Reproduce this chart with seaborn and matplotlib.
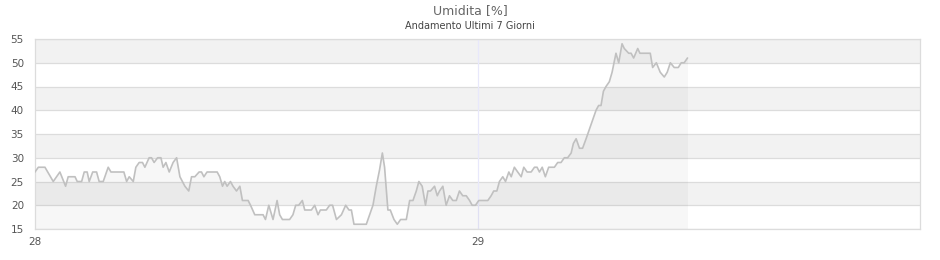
import matplotlib
matplotlib.use("Agg")
import matplotlib.pyplot as plt
import seaborn as sns
import pandas as pd

# hours since day 28 00:00
hours = [0.0, 0.18, 0.45, 0.54, 0.99, 1.35, 1.66, 1.80, 2.17, 2.29, 2.53, 2.67, 2.83, 2.94,
         3.13, 3.34, 3.48, 3.70, 3.97, 4.12, 4.82, 4.97, 5.11, 5.33, 5.47, 5.65, 5.83, 5.96,
         6.19, 6.32, 6.46, 6.65, 6.83, 6.95, 7.10, 7.28, 7.49, 7.68, 7.86, 8.13, 8.34, 8.49,
         8.67, 8.90, 9.03, 9.16, 9.33, 9.88, 10.02, 10.17, 10.29, 10.42, 10.60, 10.74, 10.93,
         11.11, 11.25, 11.56, 11.69, 11.92, 12.37, 12.50, 12.68, 12.91, 13.13, 13.27, 13.42,
         13.81, 13.99, 14.14, 14.30, 14.50, 14.63, 14.99, 15.17, 15.35, 15.48, 15.80, 15.98,
         16.14, 16.35, 16.62, 16.85, 17.03, 17.16, 17.30, 17.97, 18.15, 18.33, 18.51, 18.69,
         18.84, 18.96, 19.14, 19.27, 19.47, 19.65, 19.83, 20.14, 20.32, 20.50, 20.68, 20.82,
         21.00, 21.18, 21.31, 21.45, 21.67, 21.82, 21.94, 22.12, 22.30, 22.48, 22.66, 22.85,
         23.02, 23.20, 23.39, 23.57, 23.71, 23.89, 24.07, 24.56, 24.74, 24.88, 25.05, 25.19,
         25.37, 25.52, 25.70, 25.83, 26.00, 26.18, 26.37, 26.51, 26.69, 26.91, 27.09, 27.23,
         27.36, 27.51, 27.68, 27.86, 28.17, 28.35, 28.53, 28.71, 28.89, 29.08, 29.20, 29.35,
         29.53, 29.70, 29.89, 30.07, 30.25, 30.43, 30.57, 30.70, 30.83, 30.97, 31.15, 31.30,
         31.51, 31.66, 31.84, 31.96, 32.20, 32.33, 32.47, 32.69, 32.81, 33.37, 33.50, 33.70,
         33.91, 34.13, 34.29, 34.46, 34.67, 34.89, 35.05, 35.21, 35.39]

humidity = [27, 28, 28, 28, 25, 27, 24, 26, 26, 25, 25, 27, 27, 25,
            27, 27, 25, 25, 28, 27, 27, 25, 26, 25, 28, 29, 29, 28,
            30, 30, 29, 30, 30, 28, 29, 27, 29, 30, 26, 24, 23, 26,
            26, 27, 27, 26, 27, 27, 26, 24, 25, 24, 25, 24, 23,
            24, 21, 21, 20, 18, 18, 17, 20, 17, 21, 18, 17,
            17, 18, 20, 20, 21, 19, 19, 20, 18, 19, 19, 20,
            20, 17, 18, 20, 19, 19, 16, 16, 18, 20, 24, 27.5,
            31, 28, 19, 19, 17, 16, 17, 17, 21, 21, 23, 25,
            24, 20, 23, 23, 24, 22, 23, 24, 20, 22, 21, 21,
            23, 22, 22, 21, 20, 20, 21, 21, 22, 23, 23, 25,
            26, 25, 27, 26, 28, 27, 26, 28, 27, 27, 28, 28,
            27, 28, 26, 28, 28, 29, 29, 30, 30, 31, 33, 34,
            32, 32, 34, 36, 38, 40, 41, 41, 44, 45, 46, 48,
            52, 50, 54, 53, 52, 52, 51, 53, 52, 52, 49, 50,
            48, 47, 48, 50, 49, 49, 50, 50, 51]

x_ticks = [0, 24]
x_tick_labels = ["28", "29"]
y_ticks = [15, 20, 25, 30, 35, 40, 45, 50, 55]
band_ranges = [(20, 25), (30, 35), (40, 45), (50, 55)]

df = pd.DataFrame({"hours": hours, "humidity": humidity})

sns.set_style("white")
plt.rcParams["font.family"] = ["DejaVu Sans"]

fig = plt.figure(figsize=(9.4, 2.6), dpi=100)
ax = fig.add_axes([35 / 940, 1 - 229 / 260, 885 / 940, 190 / 260])

for lo, hi in band_ranges:
    ax.axhspan(lo, hi, color="#f2f2f2", lw=0, zorder=0)
for y in y_ticks:
    ax.axhline(y, color="#dcdcdc", lw=0.9, zorder=1)
ax.axvline(24, color="#e8e8fb", lw=0.9, zorder=1)

ax.fill_between(df["hours"], 15, df["humidity"], color="#000000", alpha=0.03, lw=0, zorder=2)
sns.lineplot(data=df, x="hours", y="humidity", ax=ax, color="#c0c0c0", lw=1.2, zorder=3)

ax.set_xlim(0, 48)
ax.set_ylim(15, 55)
ax.set_xticks(x_ticks)
ax.set_xticklabels(x_tick_labels)
ax.set_yticks(y_ticks)
ax.tick_params(axis="both", length=0, labelsize=7.5, colors="#555555")
ax.tick_params(axis="y", pad=8)
ax.tick_params(axis="x", pad=6)
ax.set_xlabel("")
ax.set_ylabel("")
for s in ax.spines.values():
    s.set_visible(True)
    s.set_color("#dcdcdc")
    s.set_linewidth(0.9)

fig.text(0.5, 1 - 11 / 260, "Umidita [%]", ha="center", va="center", fontsize=9, color="#666666")
fig.text(0.5, 1 - 26 / 260, "Andamento Ultimi 7 Giorni", ha="center", va="center", fontsize=7, color="#444444")

fig.savefig("out.png", dpi=100)
